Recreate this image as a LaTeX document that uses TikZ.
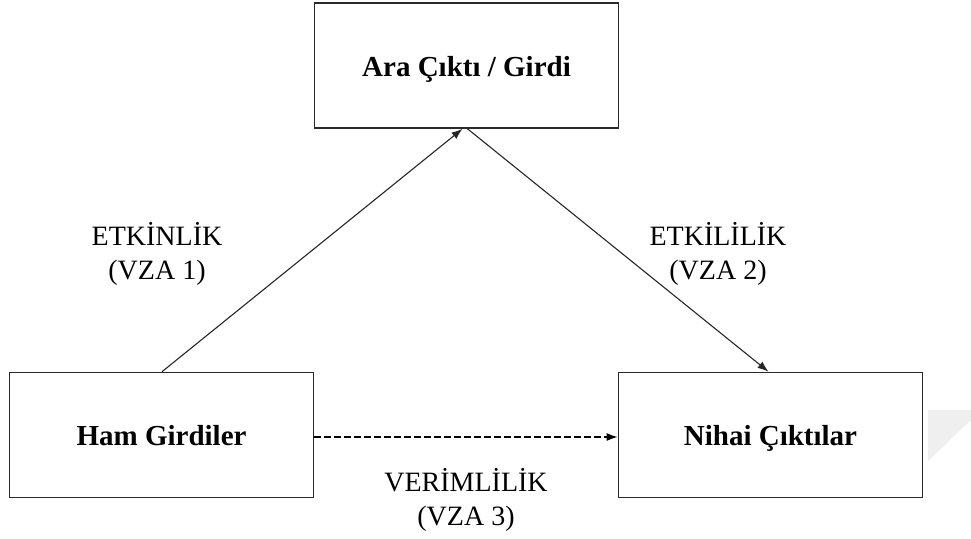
\documentclass[tikz,border=0pt]{standalone}
\usepackage{fontspec}
\setmainfont{Liberation Serif}
\usetikzlibrary{arrows.meta}
\definecolor{boxline}{HTML}{2A2A2A}
\definecolor{wm}{HTML}{EFEFEF}
\begin{document}
\begin{tikzpicture}[x=1pt,y=-1pt,
  box/.style={draw=boxline,line width=1.6pt,fill=white,minimum width=304pt,minimum height=125pt,inner sep=0pt,
    text height=25pt,text depth=4pt,font=\fontsize{29}{34}\selectfont\bfseries},
  lbl/.style={align=center,font=\fontsize{28}{34}\selectfont},
  conn/.style={line width=1.1pt,draw=black!85,-{Latex[length=11pt,width=8pt]}}]
\useasboundingbox (0,0) rectangle (971,538);
\fill[wm] (928,410) -- (971,410) -- (971,420) -- (928,461) -- cycle;
\node[box] (ara) at (466.5,65.5) {Ara Çıktı / Girdi};
\node[box] (ham) at (161.5,435) {Ham Girdiler};
\node[box] (nihai) at (770.5,435) {Nihai Çıktılar};
\draw[conn] ([xshift=0.5pt]ham.north) -- ([xshift=-4pt]ara.south);
\draw[conn] ([xshift=1pt]ara.south) -- ([xshift=-2pt]nihai.north);
\draw[conn,line width=1.6pt,black,dash pattern=on 6.5pt off 3.5pt] ([yshift=-2pt]ham.east) -- ([yshift=-2pt]nihai.west);
\node[lbl] (l1) at (157,254) {ETKİNLİK\\(VZA 1)};
\node[lbl] (l2) at (718,254) {ETKİLİLİK\\(VZA 2)};
\node[lbl] (l3) at (466,500) {VERİMLİLİK\\(VZA 3)};
\end{tikzpicture}
\end{document}
